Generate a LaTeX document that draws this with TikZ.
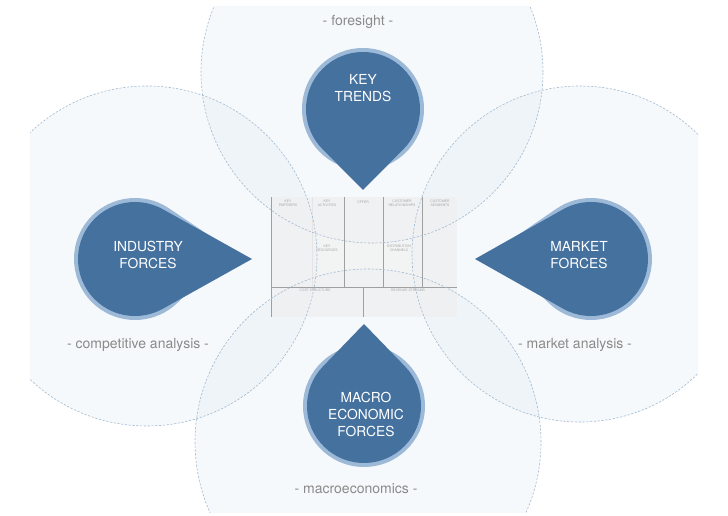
\documentclass[tikz,border=0pt]{standalone}
\usepackage{fontspec}
\setmainfont{TeX Gyre Heros}
\definecolor{dropdark}{HTML}{45719F}
\definecolor{droplight}{HTML}{9DB9D8}
\definecolor{circfill}{HTML}{DCE6F0}
\definecolor{circline}{HTML}{A2BAD2}
\definecolor{labelgray}{HTML}{8A8A8A}
\definecolor{canvasfill}{HTML}{EFF0F1}
\definecolor{canvasline}{HTML}{A0A0A0}
% #1 cx, #2 cy, #3 tip direction, #4 tip distance, #5 rotation of the light shadow
\newcommand\mydrop[5]{%
\begin{scope}[shift={(#1,#2)}]
\fill[droplight, rotate={#3+#5}] ({#4-20},0) -- ({acos(61/(#4-20))}:61pt)
  arc[start angle={acos(61/(#4-20))}, end angle={360-acos(61/(#4-20))}, radius=61pt] -- cycle;
\fill[dropdark, rotate=#3] (#4,0) -- ({acos(57/#4)}:57pt)
  arc[start angle={acos(57/#4)}, end angle={360-acos(57/#4)}, radius=57pt] -- cycle;
\end{scope}}
\tikzset{
  bubble/.style={fill=circfill, fill opacity=0.24},
  bubbleline/.style={draw=circline, line width=0.6pt, dash pattern=on 2.2pt off 1.6pt},
  droptext/.style={text=white, align=center, font=\fontsize{13.8}{17}\selectfont, inner sep=0pt},
  sidelabel/.style={text=labelgray, font=\fontsize{14}{16}\selectfont, inner sep=0pt},
  cvtext/.style={text=gray!70, align=center, font=\fontsize{3.4}{4}\selectfont, inner sep=0pt},
  cvline/.style={draw=canvasline, line width=0.55pt}
}
\begin{document}
\begin{tikzpicture}[x=1pt,y=1pt]
\useasboundingbox (0,0) rectangle (728,515);
\fill[white] (0,0) rectangle (728,515);
% background circles
\begin{scope}
\clip (30,3) rectangle (698,508);
\fill[bubble] (372,443) circle[radius=171pt];
\fill[bubble] (147,259) circle[radius=170pt];
\fill[bubble] (580,261) circle[radius=168pt];
\fill[bubble] (368,73) circle[radius=173pt];
\end{scope}
% canvas
\fill[canvasfill, fill opacity=0.8] (271,198) rectangle (457,318);
\draw[cvline] (271,198) -- (271,318);
\draw[cvline] (344,228) -- (344,318);
\draw[cvline] (383,228) -- (383,318);
\draw[cvline] (422,228) -- (422,318);
\draw[cvline] (271,228) -- (457,228);
\draw[cvline] (363,198) -- (363,228);
\draw[draw=gray!20, line width=0.4pt] (312,228) -- (312,318);
\node[cvtext] (c1) at (288,312) {KEY\\PARTNERS};
\node[cvtext] (c2) at (327,312) {KEY\\ACTIVITIES};
\node[cvtext] (c3) at (363,313) {OFFER};
\node[cvtext] (c4) at (402,312) {CUSTOMER\\RELATIONSHIPS};
\node[cvtext] (c5) at (440,312) {CUSTOMER\\SEGMENTS};
\node[cvtext] (c6) at (327,267) {KEY\\RESOURCES};
\node[cvtext] (c7) at (399,267) {DISTRIBUTION\\CHANNELS};
\node[cvtext] (c8) at (315,225) {COST STRUCTURE};
\node[cvtext] (c9) at (408,225) {REVENUE STREAMS};
% dashed outlines
\begin{scope}
\clip (30,3) rectangle (698,508);
\draw[bubbleline] (372,443) circle[radius=171pt];
\draw[bubbleline] (147,259) circle[radius=170pt];
\draw[bubbleline] (580,261) circle[radius=168pt];
\draw[bubbleline] (368,73) circle[radius=173pt];
\end{scope}
% drops
\mydrop{363}{406}{270}{81}{-6}
\mydrop{364}{109}{90}{82}{-6}
\mydrop{135}{256}{0}{117}{5}
\mydrop{591}{256}{180}{116}{-5}
% drop texts
\node[droptext] (keytrends) at (363,427) {KEY\\TRENDS};
\node[droptext] (industry) at (148,260) {INDUSTRY\\FORCES};
\node[droptext] (market) at (579,260) {MARKET\\FORCES};
\node[droptext] (macro) at (366,101) {MACRO\\ECONOMIC\\FORCES};
% labels
\node[sidelabel] (foresight) at (358,493) {- foresight -};
\node[sidelabel] (competitive) at (138,170) {- competitive analysis -};
\node[sidelabel] (marketanalysis) at (575,170) {- market analysis -};
\node[sidelabel] (macroeco) at (356,26) {- macroeconomics -};
\end{tikzpicture}
\end{document}
